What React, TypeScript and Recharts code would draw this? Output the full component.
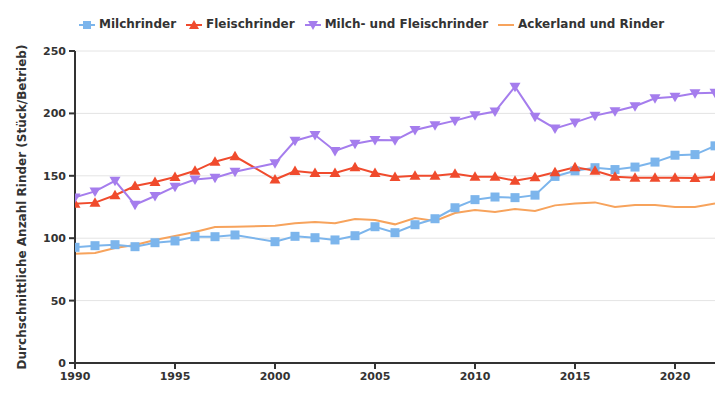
import React from 'react';
import { LineChart, Line, XAxis, YAxis, CartesianGrid } from 'recharts';

const years = [1990, 1991, 1992, 1993, 1994, 1995, 1996, 1997, 1998, 2000, 2001, 2002, 2003, 2004, 2005, 2006, 2007, 2008, 2009, 2010, 2011, 2012, 2013, 2014, 2015, 2016, 2017, 2018, 2019, 2020, 2021, 2022];

const milchrinder = [92.7, 94, 94.8, 93.2, 96.4, 97.8, 101.2, 101.2, 102.6, 97.2, 101.5, 100.4, 98.6, 102, 109.2, 104.4, 110.8, 115.6, 124.4, 130.9, 133, 132.5, 134.5, 149.5, 154, 156.5, 155, 157, 161, 166.5, 167, 174];

const fleischrinder = [127.7, 128.5, 134.4, 141.8, 145, 149, 154, 161.3, 165.6, 147, 153.8, 152.2, 152.2, 156.8, 152.2, 149, 150.1, 150.1, 151.7, 149.3, 149.3, 146, 148.8, 152.8, 156.8, 154.1, 149.3, 148.5, 148.5, 148.5, 148.2, 149.3];

const milchFleisch = [132.7, 137.5, 146, 126.8, 133.8, 141.3, 147, 148.5, 153.3, 160, 178.1, 182.7, 169.9, 175.7, 178.7, 178.4, 186.7, 190.5, 194.2, 198.5, 201.5, 221.4, 197.4, 188, 192.8, 198.2, 201.7, 205.7, 212.1, 213.4, 216.1, 216.6];

const ackerland = [87.6, 88.1, 92.1, 94.6, 98.6, 101.8, 105, 109, 109.2, 110, 111.9, 113, 111.9, 115.4, 114.6, 111.1, 116.2, 113.8, 120.2, 122.6, 121, 123.4, 121.8, 126.3, 127.9, 128.7, 125, 126.6, 126.6, 125, 125, 127.9];

const xTicks = [1990, 1995, 2000, 2005, 2010, 2015, 2020];
const yTicks = [0, 50, 100, 150, 200, 250];

const seriesNames = ['Milchrinder', 'Fleischrinder', 'Milch- und Fleischrinder', 'Ackerland und Rinder'];
const yLabel = 'Durchschnittliche Anzahl Rinder (Stück/Betrieb)';

const data = years.map((y, i) => ({
  year: y,
  milch: milchrinder[i],
  fleisch: fleischrinder[i],
  mixed: milchFleisch[i],
  acker: ackerland[i],
}));

const BLUE = '#7cb5ec';
const RED = '#f04b2d';
const PURPLE = '#a57ded';
const ORANGE = '#f7a35c';

const FONT = '"DejaVu Sans", sans-serif';

const SquareDot = (props: any) => {
  const { cx, cy, key } = props;
  if (cx == null || cy == null) return <g key={key} />;
  return <rect key={key} x={cx - 4.5} y={cy - 4.5} width={9} height={9} fill={BLUE} />;
};

const UpTriDot = (props: any) => {
  const { cx, cy, key } = props;
  if (cx == null || cy == null) return <g key={key} />;
  return <path key={key} d={`M${cx},${cy - 5.5} L${cx + 5.5},${cy + 4} L${cx - 5.5},${cy + 4} Z`} fill={RED} />;
};

const DownTriDot = (props: any) => {
  const { cx, cy, key } = props;
  if (cx == null || cy == null) return <g key={key} />;
  return <path key={key} d={`M${cx - 5.5},${cy - 4} L${cx + 5.5},${cy - 4} L${cx},${cy + 5.5} Z`} fill={PURPLE} />;
};

const LegendIcon = ({ kind, color }: { kind: string; color: string }) => (
  <svg width={16} height={12} style={{ marginRight: 4 }}>
    <line x1={0} y1={6} x2={16} y2={6} stroke={color} strokeWidth={2} />
    {kind === 'square' && <rect x={4} y={2} width={8} height={8} fill={color} />}
    {kind === 'up' && <path d="M8,1 L13,10 L3,10 Z" fill={color} />}
    {kind === 'down' && <path d="M3,2 L13,2 L8,11 Z" fill={color} />}
  </svg>
);

const legendItems = [
  { kind: 'square', color: BLUE, name: seriesNames[0] },
  { kind: 'up', color: RED, name: seriesNames[1] },
  { kind: 'down', color: PURPLE, name: seriesNames[2] },
  { kind: 'line', color: ORANGE, name: seriesNames[3] },
];

const YLabel = () => (
  <text
    x={14}
    y={199}
    transform="rotate(-90, 14, 199)"
    textAnchor="middle"
    dominantBaseline="central"
    style={{ fontFamily: FONT, fontWeight: 'bold', fontSize: 12, fill: '#333' }}
  >
    {yLabel}
  </text>
);

export default function App() {
  const tickStyle = { fontFamily: FONT, fontWeight: 'bold' as const, fontSize: 11, fill: '#333' };
  return (
    <div style={{ position: 'relative', width: 717, height: 392 }}>
      <div
        style={{
          position: 'absolute',
          top: 9,
          left: 71,
          display: 'flex',
          justifyContent: 'flex-start',
          alignItems: 'center',
          fontFamily: FONT,
          fontWeight: 'bold',
          fontSize: 12,
          lineHeight: '15px',
          color: '#333',
          whiteSpace: 'nowrap',
          zIndex: 2,
        }}
      >
        {legendItems.map((it) => (
          <div key={it.name} style={{ display: 'flex', alignItems: 'center', marginRight: 10 }}>
            <LegendIcon kind={it.kind} color={it.color} />
            <span>{it.name}</span>
          </div>
        ))}
      </div>
      <LineChart width={717} height={392} data={data} margin={{ top: 43, right: 10, bottom: 0, left: 0 }}>
        <CartesianGrid vertical={false} stroke="#e4e4e4" strokeWidth={1} />
        <XAxis
          dataKey="year"
          type="number"
          domain={[1990, 2022]}
          ticks={xTicks}
          allowDataOverflow
          height={37}
          tickSize={6}
          tickMargin={3}
          tick={tickStyle}
          stroke="#333"
          strokeWidth={2}
          tickLine={{ stroke: '#333', strokeWidth: 2 }}
        />
        <YAxis
          type="number"
          domain={[0, 250]}
          ticks={yTicks}
          width={67}
          tickSize={6}
          tickMargin={3}
          tick={tickStyle}
          stroke="#333"
          strokeWidth={2}
          tickLine={{ stroke: '#333', strokeWidth: 2 }}
          label={<YLabel />}
        />
        <Line type="linear" dataKey="acker" stroke={ORANGE} strokeWidth={2} dot={false} isAnimationActive={false} />
        <Line type="linear" dataKey="milch" stroke={BLUE} strokeWidth={2} dot={SquareDot} isAnimationActive={false} />
        <Line type="linear" dataKey="fleisch" stroke={RED} strokeWidth={2} dot={UpTriDot} isAnimationActive={false} />
        <Line type="linear" dataKey="mixed" stroke={PURPLE} strokeWidth={2} dot={DownTriDot} isAnimationActive={false} />
      </LineChart>
    </div>
  );
}
